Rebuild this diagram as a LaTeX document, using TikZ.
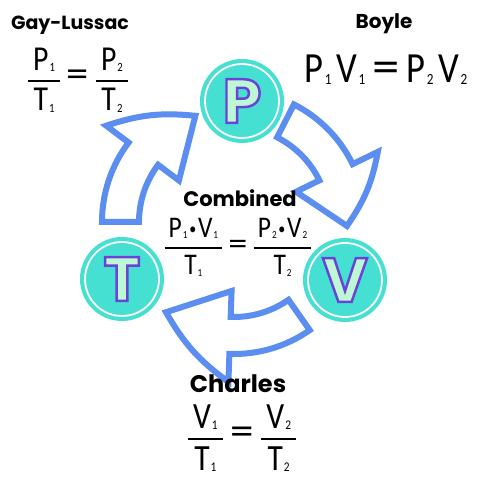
\documentclass[tikz,border=0pt]{standalone}
\usepackage{amsmath}
\usepackage{graphicx}
\usepackage{fontspec}
\setmainfont{Poppins}
\newfontfamily\gasfont{Poppins}[BoldFeatures={FakeBold=4}]
\newfontfamily\eqfont{Carlito}[FakeStretch=0.85]
\usepackage{tikz}
\usetikzlibrary{calc}

\definecolor{cycblue}{HTML}{5B8EF0}
\definecolor{gasteal}{HTML}{45E0D2}
\definecolor{mint}{HTML}{BDF7D5}
\definecolor{lpurple}{HTML}{6B42D6}

% mint letter with a purple outline
\newcommand{\gasletter}[1]{\special{pdf:bc [0.741 0.969 0.835] [0.420 0.259 0.839]}#1\special{pdf:ec}}
\newcommand{\lo}[1]{\kern0.03em\raisebox{-0.04em}{\scalebox{0.36}{#1}}}
\newcommand{\gfrac}[2]{\genfrac{}{}{2.2pt}{0}{\mbox{\hspace{0.14em}#1\hspace{0.14em}}}{\mbox{#2}}}
\newcommand{\eq}{\mbox{\,\scalebox{1.5}[1.1]{=}\,}}
\newcommand{\tdot}{\kern0.06em\raisebox{0.1em}{\scalebox{0.55}{\textbullet}}\kern0.06em}

\begin{document}
\begin{tikzpicture}[x=1pt, y=1pt,
  cyc/.style={draw=cycblue, line width=6pt, fill=white, line join=miter},
  gas/.style={circle, fill=gasteal, minimum size=84pt, inner sep=0pt, font=\fontsize{62}{62}\gasfont\bfseries\selectfont},
  ring/.style={draw=white, line width=1.8pt},
  law/.style={font=\fontsize{20}{24}\bfseries\selectfont, inner sep=0.5pt},
  eqn/.style={font=\fontsize{34}{40}\eqfont\selectfont, inner sep=0pt}
]
\useasboundingbox (0,0) rectangle (480,480);
\coordinate (C) at (234,258);

% curved arrows of the cycle
\foreach \a/\t in {180/110, 63/-2, -55/-127}{
  \draw[cyc] ($(C)+(\a:132)$) arc[start angle=\a, end angle=\a-37, radius=132]
    -- ($(C)+(\a-37:160)$) to[bend left=12] ($(C)+(\t:113)$)
    -- ($(C)+(\a-37:69)$) -- ($(C)+(\a-37:95)$)
    arc[start angle=\a-37, end angle=\a, radius=95] -- cycle;
}

% the three variables
\node[gas] (P) at (242,379) {\gasletter{P}};
\node[gas] (T) at (122,201) {\gasletter{T}};
\node[gas] (V) at (345,200) {\gasletter{V}};
\draw[ring] (P.center) circle[radius=37];
\draw[ring] (T.center) circle[radius=37];
\draw[ring] (V.center) circle[radius=37];

% laws
\node[law, font=\fontsize{19}{24}\bfseries\selectfont] (gl) at (70,455) {Gay-Lussac};
\node[eqn, font=\fontsize{35}{40}\eqfont\selectfont] (gleq) at (78,400) {$\gfrac{P\lo{1}}{T\lo{1}}\eq\gfrac{P\lo{2}}{T\lo{2}}$};

\node[law] (boyle) at (384,456) {Boyle};
\node[eqn, font=\fontsize{43}{48}\eqfont\selectfont] (boyleeq) at (386,410) {P\lo{1}\kern5pt V\lo{1}\eq P\lo{2}\kern5pt V\lo{2}};

\node[law, font=\fontsize{21}{24}\bfseries\selectfont] (comb) at (240,282) {Combined};
\node[eqn, font=\fontsize{30}{32}\eqfont\selectfont] (combeq) at (238,233) {$\gfrac{P\lo{1}\tdot V\lo{1}}{T\lo{1}}\eq\gfrac{P\lo{2}\tdot V\lo{2}}{T\lo{2}}$};

\node[law, font=\fontsize{24}{28}\bfseries\selectfont] (charles) at (238,96) {Charles};
\node[eqn, font=\fontsize{37}{40}\eqfont\selectfont] (chaeq) at (242,42) {$\gfrac{V\lo{1}}{T\lo{1}}\eq\gfrac{V\lo{2}}{T\lo{2}}$};
\end{tikzpicture}
\end{document}
